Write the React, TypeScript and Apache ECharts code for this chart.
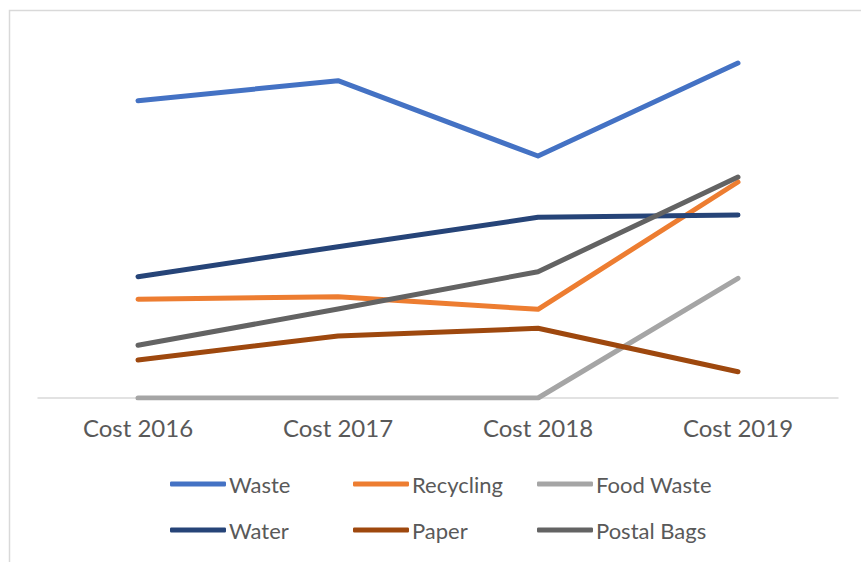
import React, { useEffect, useRef } from "react";
import * as echarts from "echarts";

// Annual cost per service line
const years = ["Cost 2016", "Cost 2017", "Cost 2018", "Cost 2019"];
const waste = [2973, 3173, 2420, 3350];
const recycling = [987, 1013, 887, 2160];
const foodWaste = [0, 0, 0, 1197];
const water = [1213, 1513, 1807, 1830];
const paper = [380, 620, 697, 263];
const postalBags = [527, 890, 1263, 2210];

const seriesDefs = [
  { name: "Waste", data: waste, color: "#4472C4" },
  { name: "Recycling", data: recycling, color: "#ED7D31" },
  { name: "Food Waste", data: foodWaste, color: "#A5A5A5" },
  { name: "Water", data: water, color: "#264478" },
  { name: "Paper", data: paper, color: "#9E480E" },
  { name: "Postal Bags", data: postalBags, color: "#636363" },
];

// legend laid out as three columns of two entries
const legendColumns = [
  ["Waste", "Water"],
  ["Recycling", "Paper"],
  ["Food Waste", "Postal Bags"],
];
const legendLefts = [170, 353, 537];

const FONT = "Lato, 'Open Sans', sans-serif";
const TEXT = "#595959";

export default function App() {
  const ref = useRef<HTMLDivElement>(null);

  useEffect(() => {
    if (!ref.current) return;
    const chart = echarts.init(ref.current, null, { renderer: "svg" });

    const legends = legendColumns.map((names, i) => ({
      left: legendLefts[i],
      top: 471,
      orient: "vertical" as const,
      padding: 0,
      itemGap: 20,
      itemWidth: 56,
      itemHeight: 5,
      icon: "roundRect",
      selectedMode: false,
      data: names,
      textStyle: {
        color: TEXT,
        fontFamily: FONT,
        fontSize: 22,
        lineHeight: 26,
        padding: [0, 0, 0, -2],
      },
    }));

    chart.setOption({
      animation: false,
      backgroundColor: "#ffffff",
      graphic: [
        {
          type: "rect",
          shape: { x: 9.5, y: 10.5, width: 900, height: 600 },
          style: { fill: "none", stroke: "#d9d9d9", lineWidth: 1.5 },
          silent: true,
        },
      ],
      grid: { left: 38, right: 23, top: 38, bottom: 164 },
      xAxis: {
        type: "category",
        data: years,
        boundaryGap: true,
        axisLine: { show: true, lineStyle: { color: "#d9d9d9", width: 1.5 } },
        axisTick: { show: false },
        axisLabel: {
          color: TEXT,
          fontFamily: FONT,
          fontSize: 24,
          margin: 17,
        },
        splitLine: { show: false },
      },
      yAxis: {
        type: "value",
        min: 0,
        max: 3600,
        show: false,
        splitLine: { show: false },
      },
      legend: legends,
      series: seriesDefs.map((s) => ({
        name: s.name,
        type: "line",
        data: s.data,
        showSymbol: false,
        symbol: "none",
        color: s.color,
        lineStyle: { color: s.color, width: 5, cap: "round", join: "round" },
        emphasis: { disabled: true },
      })),
    });

    return () => chart.dispose();
  }, []);

  return (
    <div
      ref={ref}
      style={{ position: "fixed", left: 0, top: 0, width: 861, height: 562 }}
    />
  );
}
